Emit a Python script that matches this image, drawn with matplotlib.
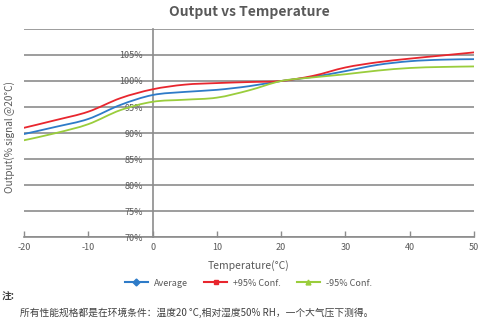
import matplotlib
matplotlib.use("Agg")
import matplotlib.pyplot as plt
from matplotlib.lines import Line2D
from matplotlib.path import Path
from matplotlib.patches import PathPatch

plt.rcParams['font.family'] = ['Noto Sans CJK SC', 'DejaVu Sans']

temperature = [-20, -15, -10, -5, 0, 5, 10, 15, 20, 25, 30, 35, 40, 45, 50]
average = [89.8, 91.2, 92.7, 95.4, 97.3, 97.9, 98.3, 99.0, 100.0, 100.8, 101.9, 103.1, 103.8, 104.1, 104.2]
conf_plus = [91.0, 92.5, 94.1, 96.7, 98.4, 99.3, 99.6, 99.8, 100.0, 101.0, 102.6, 103.6, 104.3, 104.9, 105.5]
conf_minus = [88.6, 90.0, 91.7, 94.4, 96.0, 96.4, 96.8, 98.2, 100.0, 100.7, 101.3, 102.0, 102.5, 102.7, 102.8]

series_names = ["Average", "+95% Conf.", "-95% Conf."]
series_colors = ["#2E7BC8", "#E8262E", "#9ACD3C"]
series_markers = ["D", "s", "^"]

y_ticks = [70, 75, 80, 85, 90, 95, 100, 105, 110]
y_tick_labels = ["70%", "75%", "80%", "85%", "90%", "95%", "100%", "105%", ""]
x_ticks = [-20, -10, 0, 10, 20, 30, 40, 50]

text_color = "#595959"
grid_color = "#8C8C8C"


def smooth_path(xs, ys, tension=1 / 6):
    """Cubic Bezier path through the points (Catmull-Rom style smoothing)."""
    verts = [(xs[0], ys[0])]
    codes = [Path.MOVETO]
    n = len(xs)
    for i in range(n - 1):
        x0, y0 = (xs[i - 1], ys[i - 1]) if i > 0 else (xs[i], ys[i])
        x1, y1 = xs[i], ys[i]
        x2, y2 = xs[i + 1], ys[i + 1]
        x3, y3 = (xs[i + 2], ys[i + 2]) if i + 2 < n else (x2, y2)
        c1 = (x1 + (x2 - x0) * tension, y1 + (y2 - y0) * tension)
        c2 = (x2 - (x3 - x1) * tension, y2 - (y3 - y1) * tension)
        verts += [c1, c2, (x2, y2)]
        codes += [Path.CURVE4] * 3
    return Path(verts, codes)


fig = plt.figure(figsize=(4.8, 3.28), dpi=100)
ax = fig.add_axes([0.05, 0.2774, 0.9375, 0.6342])

for values, color in zip([average, conf_plus, conf_minus], series_colors):
    patch = PathPatch(smooth_path(temperature, values), facecolor='none',
                      edgecolor=color, lw=1.3, zorder=3, capstyle='round')
    ax.add_patch(patch)

ax.set_xlim(-20, 50)
ax.set_ylim(70, 110)
ax.set_yticks(y_ticks)
ax.set_yticklabels(y_tick_labels)
ax.set_xticks(x_ticks)
ax.set_xticklabels([str(t) for t in x_ticks])

ax.grid(axis='y', color=grid_color, lw=1.2, zorder=1)
ax.set_axisbelow(False)

for side in ['top', 'right']:
    ax.spines[side].set_visible(False)
ax.spines['left'].set_position(('data', 0))
ax.spines['left'].set_color(grid_color)
ax.spines['left'].set_linewidth(1.2)
ax.spines['bottom'].set_color(grid_color)
ax.spines['bottom'].set_linewidth(1.2)

ax.tick_params(axis='y', length=0, pad=7, labelsize=6.5, labelcolor=text_color)
ax.tick_params(axis='x', direction='in', length=4, width=1, color=grid_color,
               pad=4, labelsize=6.5, labelcolor=text_color)

ax.set_xlabel("Temperature(°C)", fontsize=7.5, color=text_color, labelpad=6)
ax.set_ylabel("Output(% signal @20°C)", fontsize=7.2, color=text_color)
ax.yaxis.set_label_coords(-0.019, 0.48)

fig.text(0.52, 0.962, "Output vs Temperature", ha='center', va='center',
         fontsize=10, fontweight='bold', color=text_color)

handles = [Line2D([0], [0], color=c, marker=m, markersize=3.5, lw=1.5)
           for c, m in zip(series_colors, series_markers)]
fig.legend(handles, series_names, loc='center', bbox_to_anchor=(0.517, 0.137),
           ncol=3, frameon=False, fontsize=6.5, handlelength=2.6,
           handletextpad=0.6, columnspacing=1.8, labelcolor=text_color)

fig.text(0.004, 0.095, "注:", ha='left', va='center', fontsize=7,
         fontweight='bold', color="#404040")
fig.text(0.042, 0.046, "所有性能规格都是在环境条件：温度20 °C,相对湿度50% RH，一个大气压下测得。",
         ha='left', va='center', fontsize=7.0, color="#404040")

fig.savefig("out.png", dpi=100)
